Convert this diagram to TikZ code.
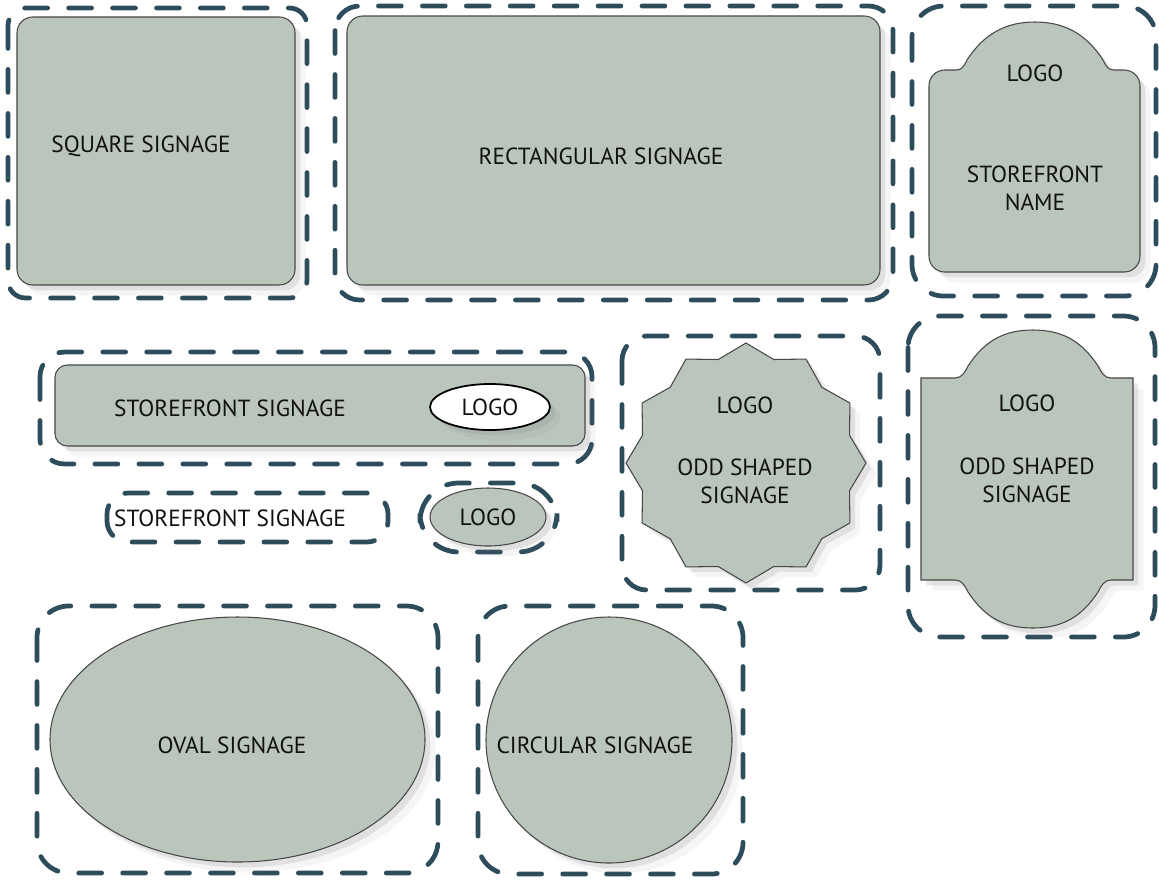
\documentclass[tikz,border=0pt]{standalone}
\usepackage{fontspec}
\setmainfont{PT Sans}
\usepackage{tikz}
\usetikzlibrary{shapes.geometric,shadows}
\definecolor{sFill}{HTML}{BAC5BC}
\definecolor{sDash}{HTML}{2D4C5C}
\definecolor{sLine}{HTML}{474747}
\definecolor{sInk}{HTML}{111111}
\newdimen\pxu \pxu=0.02cm

\begin{document}
\begin{tikzpicture}[x=0.02cm, y=-0.02cm,
  frame/.style={draw=sDash, line width=2.7pt, line cap=round, dash pattern=on 13pt off 12pt, rounded corners=14pt},
  sign/.style={fill=sFill, draw=sLine, line width=0.6pt, inner sep=0pt,
    drop shadow={shadow xshift=6pt, shadow yshift=-6pt, opacity=0.08},
    drop shadow={shadow xshift=3pt, shadow yshift=-3pt, opacity=0.18}},
  lbl/.style={text=sInk, font=\fontsize{13.3}{16}\selectfont, align=center, inner sep=0pt}]
  \useasboundingbox (0,0) rectangle (1159,880);

  \draw[frame, rounded corners=10pt] (8,8) rectangle (307,298);
  \node[sign, rounded corners=9pt, minimum width=278\pxu, minimum height=268\pxu] (square) at (156,151) {};
  \node[lbl] (squareTxt) at (141,146) {SQUARE SIGNAGE};

  \draw[frame] (335,6) rectangle (893,300);
  \node[sign, rounded corners=9pt, minimum width=533\pxu, minimum height=269\pxu] (rect) at (613.5,150.5) {};
  \node[lbl] (rectTxt) at (601,156) {RECTANGULAR SIGNAGE};

  \draw[frame, rounded corners=18pt] (912,6) rectangle (1156,296);
  \draw[sign] (967,60) .. controls (985,32) and (1008,22) .. (1035,22)
    .. controls (1062,22) and (1085,32) .. (1103,60)
    .. controls (1106,66) and (1108,70) .. (1114,70)
    [rounded corners=9pt] -- (1140,70) -- (1140,272) -- (929,272) -- (929,70)
    [sharp corners] -- (956,70) .. controls (962,70) and (964,66) .. (967,60) -- cycle;
  \node[lbl] (frontLogo) at (1035,73) {LOGO};
  \node[lbl] (frontName) at (1035,188) {STOREFRONT\\NAME};

  \draw[frame] (40,352) rectangle (592,464);
  \node[sign, rounded corners=7pt, minimum width=530\pxu, minimum height=81\pxu] (bar) at (320,405.5) {};
  \node[lbl] (barTxt) at (230,408) {STOREFRONT SIGNAGE};
  \node[sign, ellipse, fill=white, draw=black, line width=1pt, minimum width=120\pxu, minimum height=46\pxu,
    font=\fontsize{13.3}{16}\selectfont, text=sInk] (barLogo) at (490,407) {LOGO};

  \draw[frame, rounded corners=12pt] (107,493) rectangle (388,542);
  \node[lbl] (lineTxt) at (230,518) {STOREFRONT SIGNAGE};

  \draw[frame, rounded corners=22pt] (420,483) rectangle (557,552);
  \node[sign, ellipse, minimum width=116\pxu, minimum height=58\pxu,
    font=\fontsize{13.3}{16}\selectfont, text=sInk] (smallLogo) at (488,517) {LOGO};

  \draw[frame] (622,336) rectangle (880,590);
  \node[sign, star, star points=12, star point ratio=1.12, minimum size=240\pxu] (odd) at (746,463) {};
  \node[lbl] (oddLogo) at (745,405) {LOGO};
  \node[lbl] (oddTxt) at (745,481) {ODD SHAPED\\SIGNAGE};

  \draw[frame, rounded corners=18pt] (908,316) rectangle (1155,637);
  \draw[sign] (921,378) -- (955,378) .. controls (962,378) and (965,372) .. (968,366)
    .. controls (985,340) and (1005,330) .. (1033,330)
    .. controls (1061,330) and (1081,340) .. (1098,366)
    .. controls (1101,372) and (1104,378) .. (1111,378) -- (1133,378) -- (1133,580) -- (1111,580)
    .. controls (1104,580) and (1101,586) .. (1098,592)
    .. controls (1081,618) and (1061,628) .. (1033,628)
    .. controls (1005,628) and (985,618) .. (968,592)
    .. controls (965,586) and (962,580) .. (955,580) -- (921,580) -- cycle;
  \node[lbl] (archLogo) at (1027,403) {LOGO};
  \node[lbl] (archTxt) at (1027,480) {ODD SHAPED\\SIGNAGE};

  \draw[frame, rounded corners=18pt] (37,606) rectangle (438,873);
  \node[sign, ellipse, minimum width=375\pxu, minimum height=245\pxu] (oval) at (237.5,739.5) {};
  \node[lbl] (ovalTxt) at (232,745) {OVAL SIGNAGE};

  \draw[frame, rounded corners=18pt] (478,606) rectangle (743,874);
  \node[sign, circle, minimum size=246\pxu] (round) at (609,740) {};
  \node[lbl] (roundTxt) at (595,745) {CIRCULAR SIGNAGE};
\end{tikzpicture}
\end{document}
